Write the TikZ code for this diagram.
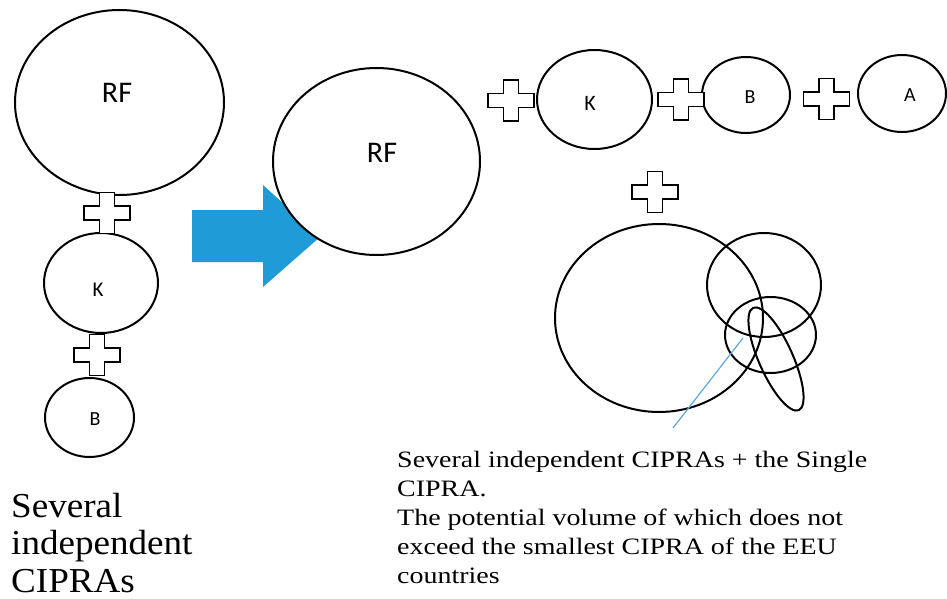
\documentclass[tikz,border=0pt]{standalone}
\usepackage{fontspec}
\setmainfont{Liberation Serif}
\newfontfamily\lblfont{Carlito}
\newfontfamily\leftserif[FakeStretch=1.06]{Liberation Serif}
\newfontfamily\rightserif[FakeStretch=1.19]{Liberation Serif}
\usetikzlibrary{shapes.geometric}
\definecolor{arrowblue}{RGB}{31,155,215}
\definecolor{lineblue}{RGB}{90,168,218}
\tikzset{
  oval/.style={ellipse, draw, line width=2pt, inner sep=0pt},
  ovalw/.style={oval, fill=white},
  lbl/.style={font=\lblfont, inner sep=0pt},
  plussign/.pic={\draw[line width=1.5pt, fill=white]
    (-7.5,-20.5) -- (7.5,-20.5) -- (7.5,-7) -- (23,-7) -- (23,7) -- (7.5,7)
    -- (7.5,20.5) -- (-7.5,20.5) -- (-7.5,7) -- (-23,7) -- (-23,-7) -- (-7.5,-7) -- cycle;}
}
\begin{document}
\begin{tikzpicture}[x=1pt,y=-1pt]
\useasboundingbox (0,0) rectangle (947,599);
% left column
\node[ovalw, minimum width=209, minimum height=185] (rf1) at (119.5,102.5) {};
\node[ovalw, minimum width=114, minimum height=100] (k1) at (101,283) {};
\node[ovalw, minimum width=89, minimum height=79] (b1) at (89.5,417.5) {};
\node[lbl, font=\lblfont\fontsize{30}{32}\selectfont] (rf1t) at (117,93) {RF};
\node[lbl, font=\lblfont\fontsize{21}{23}\selectfont] (k1t) at (98,290) {K};
\node[lbl, font=\lblfont\fontsize{20}{22}\selectfont] (b1t) at (95,419) {B};
\pic (p1) at (107,213) {plussign};
\pic (p2) at (97,355) {plussign};
% arrow
\fill[arrowblue] (192,210) -- (263,210) -- (263,185) -- (320,237) -- (263,287) -- (263,262) -- (192,262) -- cycle;
% middle RF
\node[ovalw, minimum width=207, minimum height=187] (rf2) at (376.5,161.5) {};
\node[lbl, font=\lblfont\fontsize{30}{32}\selectfont] (rf2t) at (382,153) {RF};
% top row
\node[ovalw, minimum width=115, minimum height=99] (k2) at (594.5,99.5) {};
\node[ovalw, minimum width=88, minimum height=76] (b2) at (746,95) {};
\node[ovalw, minimum width=88, minimum height=77] (a2) at (902,93.5) {};
\node[lbl, font=\lblfont\fontsize{22}{24}\selectfont] (k2t) at (590,103) {K};
\node[lbl, font=\lblfont\fontsize{20}{22}\selectfont] (b2t) at (750,97) {B};
\node[lbl, font=\lblfont\fontsize{20}{22}\selectfont] (a2t) at (910,95) {A};
\pic (p3) at (511,100.5) {plussign};
\pic (p4) at (681,99.5) {plussign};
\pic (p5) at (826.5,99) {plussign};
\pic (p6) at (655,192) {plussign};
% overlapping group
\node[oval, minimum width=208, minimum height=188] (big) at (659,318) {};
\node[oval, minimum width=114, minimum height=104] (ur) at (764,285) {};
\node[oval, minimum width=91, minimum height=76] (mid) at (770.5,335) {};
\node[oval, minimum width=34, minimum height=112, rotate=24] (tilt) at (776,359) {};
\coordinate (lfoot) at (673,428);
\coordinate (lhead) at (743,338);
\draw[lineblue, line width=1.2pt] (lfoot) -- (lhead);
% texts (base anchor = baseline of the last line)
\node[anchor=base west, align=left, inner sep=0pt,
      font=\leftserif\fontsize{35}{37.5}\selectfont] (lefttext) at (11,592)
  {Several\\independent\\CIPRAs};
\node[anchor=base west, align=left, inner sep=0pt,
      font=\rightserif\fontsize{23.5}{29}\selectfont] (righttext) at (397,583.5)
  {Several independent CIPRAs + the Single\\CIPRA.\\The potential volume of which does not\\exceed the smallest CIPRA of the EEU\\countries};
\end{tikzpicture}
\end{document}
